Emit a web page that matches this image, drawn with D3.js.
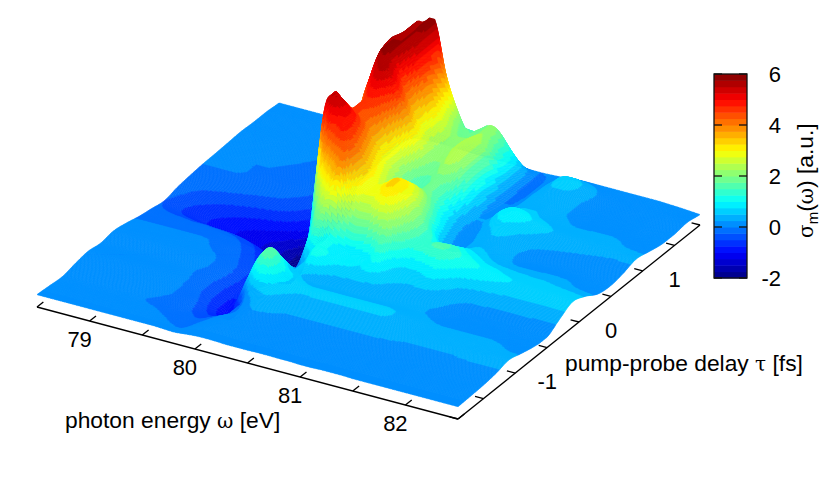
<!DOCTYPE html>
<html>
<head>
<meta charset="utf-8">
<script src="https://cdnjs.cloudflare.com/ajax/libs/d3/7.8.5/d3.min.js"></script>
<style>
  html, body { margin: 0; padding: 0; background: #fff; }
  text { font-family: "Liberation Sans", Arial, sans-serif; font-size: 22px; fill: #000; }
  .title { font-size: 22.8px; }
  .greek { font-family: "DejaVu Serif", serif; font-size: 20px; }
</style>
</head>
<body>
<div id="chart"></div>
<script>
// photon energy grid [eV], one column per value
var energies = [78.5,78.6,78.7,78.8,78.9,79.0,79.1,79.2,79.3,79.4,79.5,
  79.6,79.7,79.8,79.9,80.0,80.1,80.2,80.3,80.4,80.5,
  80.6,80.7,80.8,80.9,81.0,81.1,81.2,81.3,81.4,81.5,
  81.6,81.7,81.8,81.9,82.0,82.1,82.2,82.3,82.4,82.5];

// pump-probe delay grid [fs], one row per value
var delays = [-1.9,-1.7,-1.5,-1.3,-1.1,-0.9,-0.7,-0.5,-0.3,-0.1,0.1,0.3,0.5,0.7,0.9,1.1,1.3,1.5,1.7,1.9];

// sigma_m values, rows follow delays, columns follow energies
var sigma = [
  [.1,.1,.1,.1,.1,.1,.1,.1,.1,.1,.1, .1,.08,.06,.1,.14,.15,.14,.12,.12,.12, .13,.13,.12,.12,.1,.1,.12,.12,.12,.1, .1,.1,.1,.1,.1,.1,.1,.1,.1,.1],
  [.05,.05,.05,.05,.05,.05,.05,.05,.05,.05,.03, 0,-.05,-.08,.05,.15,.18,.18,.16,.14,.14, .14,.14,.14,.13,.12,.12,.12,.12,.12,.12, .12,.12,.12,.12,.12,.12,.12,.12,.12,.12],
  [0,0,0,0,0,0,0,0,0,-.02,-.05, -.12,-.2,-.25,-.1,.08,.16,.18,.18,.18,.18, .18,.18,.18,.16,.15,.15,.15,.15,.15,.14, .14,.14,.14,.14,.14,.14,.14,.15,.15,.15],
  [.12,.12,.12,.12,.12,.12,.12,.1,.08,.02,-.03, -.12,-.4,-.55,-.45,-.15,.14,.28,.27,.25,.22, .22,.22,.22,.22,.22,.22,.22,.22,.22,.22, .2,.2,.2,.2,.2,.22,.22,.22,.22,.22],
  [.2,.2,.2,.2,.2,.2,.18,.15,.1,.03,-.1, -.3,-.6,-.95,-.85,.1,.5,.6,.5,.42,.4, .42,.42,.42,.42,.42,.42,.42,.4,.36,.32, .3,.3,.3,.3,.3,.3,.32,.34,.35,.35],
  [.12,.12,.12,.12,.12,.12,.1,.08,.05,0,-.08, -.3,-.6,-.75,.3,1.3,1.75,1.2,.8,.6,.55, .55,.55,.55,.55,.55,.55,.55,.5,.42,.35, .3,.28,.28,.28,.28,.28,.28,.26,.22,.2],
  [.2,.2,.2,.2,.2,.18,.16,.14,.1,.05,-.05, -.2,-.5,-.7,-.4,1.0,1.0,.55,.5,.4,.3, .3,.3,.28,.28,.27,.27,.27,.27,.26,.24, .2,.18,.18,.18,.18,.18,.16,.12,.08,.06],
  [.1,.1,.1,.1,.1,.1,.08,.05,0,-.05,-.15, -.3,-.5,-.7,-.75,-.35,0,.5,1.2,1.0,.8, .75,.7,.75,.65,.5,.45,.42,.4,.35,.3, .22,.15,.14,.14,.14,.14,.12,.08,.04,.02],
  [-.05,-.05,-.05,-.05,-.05,-.05,-.05,-.05,-.1,-.15,-.3, -.5,-.75,-1.0,-1.2,-.8,.8,1.6,1.1,.95,.85, .95,1.05,1.5,1.0,.75,.7,.8,.9,.75,.55, .45,.4,.38,.36,.36,.36,.36,.36,.36,.36],
  [-.15,-.18,-.2,-.22,-.25,-.25,-.28,-.3,-.35,-.45,-.6, -.85,-1.1,-1.35,-1.3,.5,2.4,3.3,3.9,3.0,2.6, 2.6,3.0,2.7,1.9,1.4,1.4,1.55,1.55,1.3,1.1, 1.0,.9,.8,.75,.7,.7,.7,.7,.66,.65],
  [-.25,-.4,-.55,-.65,-.75,-.85,-.95,-1.05,-1.15,-1.25,-1.4, -1.6,-1.85,-1.75,.5,3.6,4.4,4.8,4.3,3.4,2.8, 3.0,3.3,3.0,2.2,1.5,1.0,1.0,1.1,.95,.8, .7,.65,.6,.58,.55,.55,.52,.5,.48,.45],
  [-.12,-.25,-.4,-.5,-.6,-.7,-.8,-.9,-1.0,-1.1,-1.3, -1.6,-2,0,4.85,5.5,5.2,4.7,3.8,3.0,2.4, 2.2,2.7,2.5,1.6,.6,.3,.4,.6,.55,.45, .35,.3,.3,.3,.3,.3,.28,.2,.15,.12],
  [-.05,-.1,-.12,-.15,-.2,-.25,-.3,-.35,-.4,-.5,-.65, -.9,-1.3,-.8,4.9,4.66,4.5,4.1,3.3,2.5,1.9, 1.7,2.0,1.7,.9,.3,.2,.28,.45,.45,.35, .25,.15,.12,.12,.12,.12,.1,.06,.04,.04],
  [0,0,0,0,-.02,-.05,-.08,-.1,-.12,-.2,-.3, -.5,-.9,-.9,2.8,4.3,4.8,4.4,3.4,2.4,1.75, 1.6,1.85,1.5,.6,.2,.2,.42,.6,.55,.45, .35,.28,.25,.22,.2,.18,.16,.14,.14,.14],
  [.02,.02,.02,.02,0,0,-.02,-.05,-.08,-.1,-.2, -.35,-.6,-.6,3.8,5.2,5.6,5.0,3.9,2.9,2.1, 1.9,2.3,2.0,.7,.25,.3,.75,1.0,.9,.75, .6,.5,.45,.42,.38,.35,.32,.3,.3,.3],
  [.05,.05,.05,.05,.05,.03,.02,0,-.02,-.05,-.12, -.25,-.4,1.5,5,5.9,5.3,4.2,3.3,2.6,2.15, 2.2,2.5,2.1,.8,.1,.15,.4,.55,.55,.42, .35,.3,.28,.28,.28,.28,.26,.22,.2,.18],
  [.08,.08,.08,.08,.06,.05,.04,.02,0,-.03,-.1, -.2,-.3,2,5.5,5.75,5.6,4.6,3.5,2.7,2.2, 2.2,2.4,2.1,.7,0,.05,.3,.4,.4,.32, .25,.2,.15,.15,.15,.15,.14,.1,.08,.06],
  [.05,.05,.05,.05,.05,.05,.03,.02,0,-.02,-.06, -.15,-.2,1.5,5.2,5.7,5.75,4.5,3.1,2.2,1.8, 1.95,2.2,1.6,.6,-.02,0,.3,.45,.45,.38, .25,.15,.1,.1,.1,.1,.1,.08,.06,.05],
  [.05,.05,.05,.05,.05,.04,.03,.02,0,-.02,-.04, -.1,-.15,1,5.2,5.6,5.9,3.8,2.45,1.55,1.55, 1.97,1.9,1.3,.6,-.05,0,.25,.6,.65,.5, .3,.18,.12,.12,.12,.12,.12,.12,.12,.12],
  [0,0,0,0,0,0,0,0,.02,.02,.02, .02,.02,.05,.08,.1,.1,.08,.06,.05,.05, .05,.05,.03,0,0,.02,.05,.1,.12,.12, .12,.12,.12,.12,.12,.12,.1,.08,.05,.02]
];

// axis ticks
var energyTicks = [79, 80, 81, 82];
var energyMinor = [78.5, 79.5, 80.5, 81.5, 82.5];
var delayTicks = [-1, 0, 1];
var delayMinor = [-1.9, -1.5, -0.5, 0.5, 1.5, 1.9];
var colorTicks = [-2, 0, 2, 4, 6];

var width = 830;
var height = 485;

// left corner of the base plane
var origin = { x: 37, y: 307 };

// oblique projection, one scale per axis and screen direction
var energyX = d3.scaleLinear().domain([78.5, 82.5]).range([0, 421]);
var energyY = d3.scaleLinear().domain([78.5, 82.5]).range([0, 112]);
var delayX = d3.scaleLinear().domain([-1.9, 1.9]).range([0, 242]);
var delayY = d3.scaleLinear().domain([-1.9, 1.9]).range([0, -194]);
var heightY = d3.scaleLinear().domain([-2, 6]).range([37, -151]);

function project(w, t, z) {
    return [
        origin.x + energyX(w) + delayX(t),
        origin.y + energyY(w) + delayY(t) + (z === undefined ? 0 : heightY(z))
    ];
}

// jet palette cut into 32 flat levels
var jet = d3.scaleLinear()
    .domain([0, 0.125, 0.375, 0.625, 0.875, 1])
    .range(['#000080', '#0000ff', '#00ffff', '#ffff00', '#ff0000', '#800000']);
var color = d3.scaleQuantize()
    .domain([-2, 6])
    .range(d3.range(32).map(function(i) { return jet((i + 0.5) / 32); }));

var svg = d3.select('#chart').append('svg')
    .attr('width', width)
    .attr('height', height);

// smooth between the read values without overshooting them
function smooth(p0, p1, p2, p3, s) {
    var v = 0.5 * (2 * p1 + (p2 - p0) * s + (2 * p0 - 5 * p1 + 4 * p2 - p3) * s * s + (3 * p1 - p0 - 3 * p2 + p3) * s * s * s);
    return Math.max(Math.min(p1, p2), Math.min(Math.max(p1, p2), v));
}

// keep an index inside 0..last
function clampIndex(i, last) { return Math.max(0, Math.min(last, i)); }

function rowValue(row, u) {
    var last = row.length - 1;
    var i = clampIndex(Math.floor(u), last - 1);
    return smooth(row[clampIndex(i - 1, last)], row[i], row[i + 1], row[clampIndex(i + 2, last)], u - i);
}

function surfaceValue(u, v) {
    var last = sigma.length - 1;
    var j = clampIndex(Math.floor(v), last - 1);
    return smooth(
        rowValue(sigma[clampIndex(j - 1, last)], u),
        rowValue(sigma[j], u),
        rowValue(sigma[j + 1], u),
        rowValue(sigma[clampIndex(j + 2, last)], u),
        v - j
    );
}

// draw finer than the read grid so the colour bands come out smooth
var stepsW = 8;
var stepsT = 16;
var indexW = d3.range(0, (energies.length - 1) * stepsW + 1).map(function(i) { return i / stepsW; });
var indexT = d3.range(0, (delays.length - 1) * stepsT + 1).map(function(i) { return i / stepsT; });
var energyAt = d3.scaleLinear().domain(d3.range(energies.length)).range(energies);
var delayAt = d3.scaleLinear().domain(d3.range(delays.length)).range(delays);

var grid = indexT.map(function(v) {
    return indexW.map(function(u) {
        var z = surfaceValue(u, v);
        return { p: project(energyAt(u), delayAt(v), z), z: z };
    });
});

// back to front: long delays first, low energies first
var surface = svg.append('g').attr('class', 'surface');
var runs = [];
for (var j = grid.length - 2; j >= 0; j--) {
    for (var i = 0; i < indexW.length - 1; i++) {
        var a = grid[j][i], b = grid[j][i + 1], c = grid[j + 1][i + 1], d = grid[j + 1][i];
        var fill = color((a.z + b.z + c.z + d.z) / 4);
        var last = runs[runs.length - 1];
        if (!last || last.fill !== fill) {
            last = { fill: fill, path: d3.path() };
            runs.push(last);
        }
        last.path.moveTo(a.p[0], a.p[1]);
        last.path.lineTo(b.p[0], b.p[1]);
        last.path.lineTo(c.p[0], c.p[1]);
        last.path.lineTo(d.p[0], d.p[1]);
        last.path.closePath();
    }
}

surface.selectAll('path')
    .data(runs)
    .enter()
    .append('path')
    .attr('d', function(r) { return r.path.toString(); })
    .attr('fill', function(r) { return r.fill; })
    .attr('stroke', function(r) { return r.fill; })
    .attr('stroke-width', 0.5)
    .attr('stroke-linejoin', 'round');

// base axes
var axes = svg.append('g').attr('class', 'axes')
    .attr('stroke', '#000')
    .attr('stroke-width', 1.3)
    .attr('fill', 'none');

function segment(p, q) {
    axes.append('line')
        .attr('x1', p[0]).attr('y1', p[1])
        .attr('x2', q[0]).attr('y2', q[1]);
}

segment(project(78.5, -1.9), project(82.5, -1.9));
segment(project(82.5, -1.9), project(82.5, 1.9));

energyTicks.concat(energyMinor).forEach(function(w) {
    segment(project(w, -1.9), project(w, -1.8));
});
delayTicks.concat(delayMinor).forEach(function(t) {
    segment(project(82.5, t), project(82.42, t));
});

svg.selectAll('.energy-label')
    .data(energyTicks)
    .enter()
    .append('text')
    .attr('class', 'energy-label')
    .attr('x', function(d) { return project(d, -1.9)[0] - 10; })
    .attr('y', function(d) { return project(d, -1.9)[1] + 26; })
    .attr('text-anchor', 'middle')
    .text(function(d) { return d; });

svg.selectAll('.delay-label')
    .data(delayTicks)
    .enter()
    .append('text')
    .attr('class', 'delay-label')
    .attr('x', function(d) { return project(82.5, d)[0] + 32; })
    .attr('y', function(d) { return project(82.5, d)[1] + 16; })
    .attr('text-anchor', 'middle')
    .text(function(d) { return d; });

var energyTitle = svg.append('text').attr('class', 'title').attr('x', 65).attr('y', 428);
energyTitle.append('tspan').text('photon energy ');
energyTitle.append('tspan').attr('class', 'greek').text('ω');
energyTitle.append('tspan').text(' [eV]');

var delayTitle = svg.append('text').attr('class', 'title').attr('x', 565).attr('y', 371);
delayTitle.append('tspan').text('pump-probe delay ');
delayTitle.append('tspan').attr('class', 'greek').text('τ');
delayTitle.append('tspan').text(' [fs]');

// colour bar
var barLeft = 714;
var barWidth = 33;
var barScale = d3.scaleLinear().domain([-2, 6]).range([278, 74]);

svg.append('g').selectAll('rect')
    .data(color.range())
    .enter()
    .append('rect')
    .attr('x', barLeft)
    .attr('width', barWidth)
    .attr('y', function(d, i) { return barScale(-2 + (i + 1) * 0.25); })
    .attr('height', barScale(0) - barScale(0.25) + 0.5)
    .attr('fill', function(d) { return d; });

svg.append('rect')
    .attr('x', barLeft)
    .attr('y', barScale(6))
    .attr('width', barWidth)
    .attr('height', barScale(-2) - barScale(6))
    .attr('fill', 'none')
    .attr('stroke', '#111')
    .attr('stroke-width', 1.3);

colorTicks.forEach(function(v) {
    [[barLeft, barLeft + 8], [barLeft + barWidth - 8, barLeft + barWidth]].forEach(function(s) {
        svg.append('line')
            .attr('x1', s[0]).attr('x2', s[1])
            .attr('y1', barScale(v)).attr('y2', barScale(v))
            .attr('stroke', '#111')
            .attr('stroke-width', 1.3);
    });
});

svg.selectAll('.color-label')
    .data(colorTicks)
    .enter()
    .append('text')
    .attr('class', 'color-label')
    .attr('x', 781)
    .attr('y', function(d) { return barScale(d) + 8; })
    .attr('text-anchor', 'end')
    .text(function(d) { return d; });

var colorTitle = svg.append('text')
    .attr('class', 'title')
    .attr('transform', 'translate(813, 238) rotate(-90)');
colorTitle.append('tspan').attr('class', 'greek').text('σ');
colorTitle.append('tspan').attr('dy', 5).style('font-size', '15px').text('m');
colorTitle.append('tspan').attr('dy', -5).text('(');
colorTitle.append('tspan').attr('class', 'greek').text('ω');
colorTitle.append('tspan').text(') [a.u.]');
</script>
</body>
</html>
